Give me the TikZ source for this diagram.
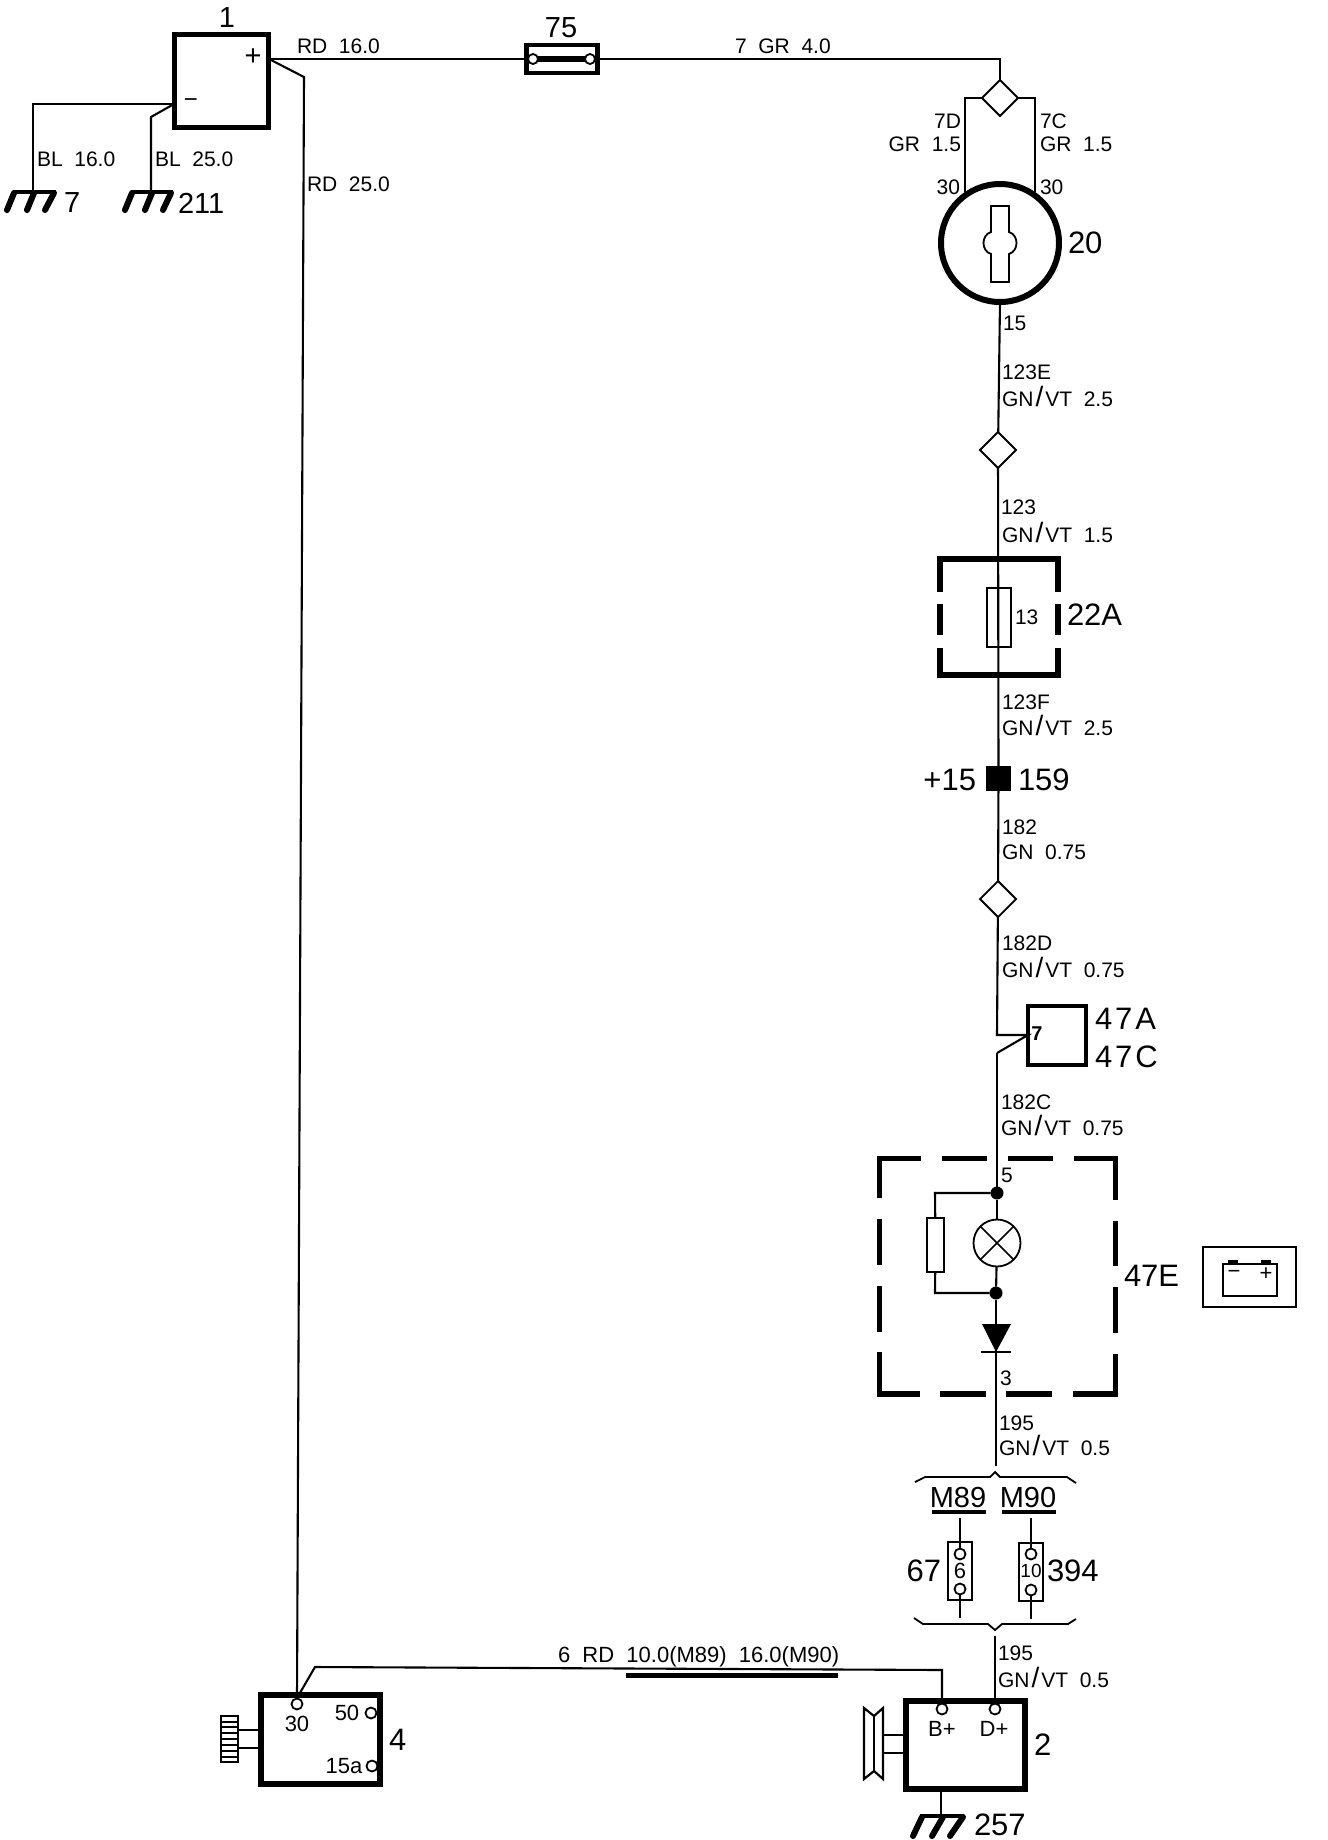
\documentclass[tikz,border=0pt]{standalone}
\usepackage{fontspec}
\setmainfont[WordSpace=2]{Liberation Sans}
\usetikzlibrary{shapes.geometric}
\newcommand{\smallf}{\fontsize{21}{23}\selectfont}
\newcommand{\midf}{\fontsize{22}{24}\selectfont}
\newcommand{\bigf}{\fontsize{31}{33}\selectfont}
\newcommand{\gnf}{\fontsize{29}{31}\selectfont}
\newcommand{\gv}{GN\kern2pt{\fontsize{28}{23}\selectfont/}\kern2ptVT}
\tikzset{
  x=1pt,y=-1pt,
  wire/.style={line width=2.1pt,line join=miter},
  hbox/.style={draw,line width=5.5pt,inner sep=0pt,outer sep=0pt},
  tbox/.style={draw,line width=1.8pt,inner sep=0pt,outer sep=0pt,fill=white},
  tag/.style={inner sep=0pt,outer sep=0pt,font=\smallf,anchor=west},
  tagr/.style={inner sep=0pt,outer sep=0pt,font=\smallf,anchor=east},
  tagc/.style={inner sep=0pt,outer sep=0pt,font=\midf},
  big/.style={inner sep=0pt,outer sep=0pt,font=\bigf,anchor=west},
  bigr/.style={inner sep=0pt,outer sep=0pt,font=\bigf,anchor=east},
  bigc/.style={inner sep=0pt,outer sep=0pt,font=\gnf},
  conn/.style={draw,diamond,aspect=1,line width=1.8pt,minimum width=36pt,minimum height=36pt,inner sep=0pt,outer sep=0pt,fill=white},
  pin/.style={draw,circle,line width=1.8pt,minimum size=11pt,inner sep=0pt,outer sep=0pt,fill=white},
  dot/.style={fill,circle,minimum size=13pt,inner sep=0pt,outer sep=0pt},
  dash side/.style={line width=5.5pt,line cap=butt},
  gnd/.style={line width=6pt,line cap=round},
  gndbar/.style={line width=3.5pt},
}
\begin{document}
\begin{tikzpicture}
\useasboundingbox (0,0) rectangle (1328,1840);
% --- battery 1
\node[hbox,minimum width=94pt,minimum height=93pt] (bat) at (221.5,81) {};
\node[bigc] (lbat) at (227,18) {1};
\node[bigc] (lbatp) at (253,57) {+};
\node[bigc] (lbatm) at (191,103) {\fontsize{24}{24}\selectfont−};
\coordinate (pp) at (269,59);
\coordinate (mm) at (174,104);
% grounds
\coordinate (g7) at (33,192);
\coordinate (g7b) at (33,104);
\draw[wire] (mm) -- (g7b) -- (g7);
\coordinate (g211a) at (151,117);
\coordinate (g211) at (151,192);
\draw[wire] (mm) -- (g211a) -- (g211);
\draw[gndbar] (13,192) -- (56,192);
\foreach \a/\b in {14/7,34/27,54/45}{\draw[gnd] (\a,193) -- (\b,210);}
\draw[gndbar] (131,192) -- (173,192);
\foreach \a/\b in {132/125,152/145,171/163}{\draw[gnd] (\a,193) -- (\b,210);}
\node[tag] (t1) at (37,159) {BL 16.0};
\node[tag] (t2) at (155,159) {BL 25.0};
\node[big,font=\gnf] (l7) at (64,203) {7};
\node[big,font=\gnf] (l211) at (178,203) {211};
% --- fuse 75
\node[draw,line width=4.5pt,inner sep=0pt,outer sep=0pt,minimum width=71pt,minimum height=28pt] (f75) at (562,59) {};
\node[bigc] (l75) at (561,28) {75};
\draw[line width=5.5pt] (534,59) -- (590,59);
\node[pin,minimum size=10pt] (f75a) at (533,59) {};
\node[pin,minimum size=10pt] (f75b) at (590,59) {};
\draw[wire] (pp) -- (f75);
\node[tag] (t3) at (297,46) {RD 16.0};
\coordinate (rdb) at (304,77);
\node[tag] (t4) at (307,184) {RD 25.0};
% --- top right
\node[conn] (d1) at (1000,98) {};
\coordinate (c1) at (1000,59);
\draw[wire] (f75) -- (c1) -- (d1);
\node[tag] (t5) at (735,46) {7 GR 4.0};
\node[draw,circle,line width=6pt,minimum size=118pt,inner sep=0pt,outer sep=0pt] (sw) at (1000,243) {};
\coordinate (la) at (965,98);
\coordinate (lb) at (965,192);
\coordinate (ra) at (1035,98);
\coordinate (rb) at (1035,192);
\draw[wire] (d1.west) -- (la) -- (lb);
\draw[wire] (d1.east) -- (ra) -- (rb);
\draw[line width=1.8pt] (991,206) -- (1009,206) -- (1009,232) .. controls (1019,235) and (1019,251) .. (1009,254) -- (1009,282) -- (991,282) -- (991,254) .. controls (981,251) and (981,235) .. (991,232) -- cycle;
\node[tagr] (t6) at (961,121) {7D};
\node[tagr] (t7) at (961,144) {GR 1.5};
\node[tagr] (t8) at (960,187) {30};
\node[tag] (t9) at (1040,121) {7C};
\node[tag] (t10) at (1040,144) {GR 1.5};
\node[tag] (t11) at (1040,187) {30};
\node[big] (l20) at (1068,243) {20};
\node[tag] (t12) at (1003,323) {15};
\node[tag] (t13) at (1002,372) {123E};
\node[tag] (t14) at (1002,396) {\gv\ 2.5};
\node[conn] (d2) at (998,450) {};
\draw[wire] (sw.south) -- (d2);
\node[tag] (t15) at (1001,507) {123};
\node[tag] (t16) at (1002,532) {\gv\ 1.5};
% --- 22A
\coordinate (bx1) at (940,559);
\coordinate (bx2) at (1058,559);
\coordinate (bx3) at (1058,675);
\coordinate (bx4) at (940,675);
\draw[dash side,line cap=square] (940,592) -- (bx1) -- (bx2) -- (1058,592);
\draw[dash side,line cap=square] (940,648) -- (bx4) -- (bx3) -- (1058,648);
\draw[dash side] (940,604) -- (940,635);
\draw[dash side] (1058,604) -- (1058,635);
\node[tbox,minimum width=24pt,minimum height=59pt] (f13) at (999,617.5) {};
\node[tag] (t17) at (1015,617) {13};
\node[big] (l22) at (1067,615) {22A};
\node[fill,minimum width=25pt,minimum height=25pt,inner sep=0pt,outer sep=0pt] (n159) at (998.5,778.5) {};
\draw[wire] (d2) -- (n159);
\node[bigr] (l15) at (976,780) {+15};
\node[big] (l159) at (1018,780) {159};
\node[tag] (t18) at (1002,702) {123F};
\node[tag] (t19) at (1002,725) {\gv\ 2.5};
\node[tag] (t20) at (1002,827) {182};
\node[tag] (t21) at (1002,852) {GN 0.75};
\node[conn] (d3) at (998,899) {};
\draw[wire] (n159) -- (d3);
\node[tag] (t22) at (1002,943) {182D};
\node[tag] (t23) at (1002,967) {\gv\ 0.75};
% --- 47A/C
\node[draw,line width=4pt,inner sep=0pt,outer sep=0pt,minimum width=58pt,minimum height=59pt] (lc) at (1057,1035.5) {};
\node[tagc,font=\fontsize{20}{21}\selectfont\bfseries] (t24) at (1037,1034) {7};
\node[big] (l47a) at (1095,1019) {4\kern3pt7\kern3ptA};
\node[big] (l47c) at (1095,1057) {4\kern3pt7\kern3ptC};
\coordinate (e1) at (997,1035);
\coordinate (e2) at (1028,1035);
\coordinate (e3) at (997,1053);
\draw[wire] (d3) -- (e1) -- (e2) -- (e3);
\node[tag] (t25) at (1001,1102) {182C};
\node[tag] (t26) at (1001,1125) {\gv\ 0.75};
% --- 47E dashed box
\coordinate (q1) at (879.5,1158.5);
\coordinate (q2) at (1115.5,1158.5);
\coordinate (q3) at (1115.5,1394);
\coordinate (q4) at (879.5,1394);
\draw[dash side] (879.5,1198) -- (q1) -- (921,1158.5);
\draw[dash side] (942,1158.5) -- (987,1158.5);
\draw[dash side] (1008,1158.5) -- (1053,1158.5);
\draw[dash side] (1074,1158.5) -- (q2) -- (1115.5,1200);
\draw[dash side] (879.5,1219) -- (879.5,1265);
\draw[dash side] (1115.5,1221) -- (1115.5,1266);
\draw[dash side] (879.5,1286) -- (879.5,1332);
\draw[dash side] (1115.5,1287) -- (1115.5,1333);
\draw[dash side] (879.5,1352) -- (q4) -- (920,1394);
\draw[dash side] (940,1394) -- (986,1394);
\draw[dash side] (1006,1394) -- (1052,1394);
\draw[dash side] (1073,1394) -- (q3) -- (1115.5,1354);
\node[dot] (dt1) at (997,1193) {};
\node[dot] (dt2) at (996,1293) {};
\draw[wire] (e3) -- (dt1);
\node[draw,circle,line width=1.8pt,minimum size=47pt,inner sep=0pt,outer sep=0pt] (lamp) at (997,1243) {};
\draw[line width=1.6pt] (lamp.north west) -- (lamp.south east);
\draw[line width=1.6pt] (lamp.north east) -- (lamp.south west);
\draw[wire] (dt1) -- (lamp);
\draw[wire] (lamp) -- (dt2);
\node[tbox,minimum width=17pt,minimum height=54pt] (res) at (935.5,1245) {};
\coordinate (r1) at (935,1193);
\coordinate (r2) at (935,1293);
\draw[wire] (dt1) -- (r1) -- (res);
\draw[wire] (res) -- (r2) -- (dt2);
\coordinate (dd) at (996,1352);
\fill (982,1324) -- (1011,1324) -- (dd) -- cycle;
\draw[line width=1.6pt] (981,1352) -- (1011,1352);
\draw[wire] (dt2) -- (dd);
\coordinate (w1) at (996,1466);
\draw[wire] (dd) -- (w1);
\node[tag] (t27) at (1001,1175) {5};
\node[tag] (t28) at (1000,1378) {3};
\node[tag] (t29) at (999,1423) {195};
\node[tag] (t30) at (999,1445) {\gv\ 0.5};
\node[big] (l47e) at (1124,1276) {47E};
% battery icon
\node[draw,line width=2pt,inner sep=0pt,outer sep=0pt,minimum width=93pt,minimum height=60pt] (ic) at (1249.5,1277) {};
\node[draw,line width=2pt,inner sep=0pt,outer sep=0pt,minimum width=54pt,minimum height=32pt] (ic2) at (1250,1280) {};
\fill (1228,1260) rectangle (1238,1264);
\fill (1261,1260) rectangle (1271,1264);
\node[tagc] (icm) at (1234,1274) {−};
\node[tagc] (icp) at (1266,1274) {+};
% --- M89/M90
\draw[line width=1.8pt] (915,1482) -- (925,1477) -- (990,1477) -- (995,1472) -- (1000,1477) -- (1067,1477) -- (1076,1483);
\draw[line width=1.8pt] (914,1618) -- (923,1624) -- (988,1624) -- (995,1630) -- (1002,1624) -- (1068,1624) -- (1076,1619);
\node[bigc] (m89) at (958,1497) {M89};
\node[bigc] (m90) at (1028,1497) {M90};
\draw[line width=4.5pt] (932,1512) -- (986,1512);
\draw[line width=4.5pt] (1002,1512) -- (1056,1512);
\node[tbox,minimum width=24pt,minimum height=58pt] (f6) at (960,1571) {};
\node[tbox,minimum width=24pt,minimum height=58pt] (f10) at (1031,1572) {};
\node[pin] (p1) at (960,1554) {};
\node[pin] (p2) at (960,1589) {};
\node[pin] (p3) at (1031,1554) {};
\node[pin] (p4) at (1031,1590) {};
\coordinate (a1) at (960,1518);
\coordinate (a2) at (960,1618);
\coordinate (a3) at (1031,1518);
\coordinate (a4) at (1031,1619);
\draw[wire] (a1) -- (p1);
\draw[wire] (p2) -- (a2);
\draw[wire] (a3) -- (p3);
\draw[wire] (p4) -- (a4);
\node[tagc] (t31) at (960,1571) {6};
\node[tagc,font=\fontsize{19}{20}\selectfont] (t32) at (1031,1571) {10};
\node[bigr] (l67) at (941,1571) {67};
\node[big] (l394) at (1047,1571) {394};
% --- generator 2
\node[hbox,minimum width=119pt,minimum height=88pt] (gen) at (965.5,1745) {};
\node[pin] (bp) at (942,1709) {};
\node[pin] (dp) at (995,1709) {};
\node[tagc] (t33) at (942,1729) {B+};
\node[tagc] (t34) at (994,1729) {D+};
\node[big] (l2) at (1034,1745) {2};
\coordinate (w2) at (995,1636);
\draw[wire] (w2) -- (dp);
\node[tag] (t35) at (998,1653) {195};
\node[tag] (t36) at (998,1677) {\gv\ 0.5};
\coordinate (g257) at (941,1816);
\draw[wire,line width=2.5pt] (941,1792) -- (g257);
\draw[gndbar] (920,1816) -- (964,1816);
\foreach \a/\b in {922/913,943/932,963/950}{\draw[gnd] (\a,1817) -- (\b,1836);}
\node[big] (l257) at (974,1825) {257};
% pulley
\coordinate (pl) at (883,1735);
\coordinate (pm) at (883,1753);
\draw[line width=2.2pt,line join=miter] (864,1708) -- (874,1716) -- (883,1708) -- (883,1779) -- (874,1771) -- (864,1779) -- cycle;
\draw[line width=1.6pt] (874,1716) -- (874,1771);
\draw[line width=2.4pt] (pl) -- (gen.west |- pl);
\draw[line width=1.8pt] (pm) -- (gen.west |- pm);
% --- starter 4
\node[hbox,minimum width=119pt,minimum height=89pt] (st) at (320.5,1739.5) {};
\node[pin] (p30) at (297,1704) {};
\node[pin] (p50) at (371,1713) {};
\node[pin] (p15) at (372,1766) {};
\node[tagc] (t37) at (297,1724) {30};
\node[tagc] (t38) at (347,1713) {50};
\node[tagc] (t39) at (344,1766) {15a};
\node[big] (l4) at (389,1740) {4};
\coordinate (bb) at (297,1698);
\draw[wire] (pp) -- (rdb) -- (bb);
\coordinate (s1) at (315,1667);
\coordinate (s2) at (942,1670);
\draw[wire] (bb) -- (s1) -- (s2) -- (bp);
\node[tag,font=\midf] (t40) at (558,1657) {6 RD 10.0(M89) 16.0(M90)};
\draw[line width=5pt] (626,1675) -- (838,1675);
% knurl
\node[tbox,minimum width=17pt,minimum height=46pt] (kn) at (229.5,1739) {};
\foreach \y in {1722,1727,1733,1739,1745,1751,1757}{\draw[line width=1.3pt] (221,\y) -- (238,\y);}
\draw[line width=1.6pt] (238,1730) -- (258,1730);
\draw[line width=2.1pt] (238,1748) -- (258,1748);
\end{tikzpicture}
\end{document}
